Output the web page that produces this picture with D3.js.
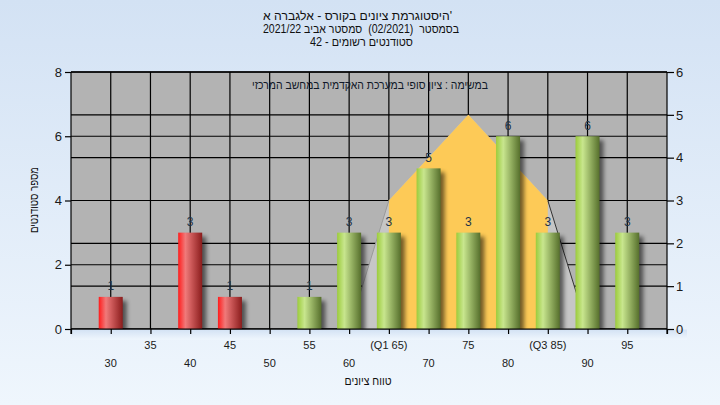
<!DOCTYPE html>
<html><head><meta charset="utf-8">
<script src="https://cdn.jsdelivr.net/npm/d3@7"></script>
<style>body{margin:0;padding:0;overflow:hidden}svg{display:block}</style>
</head><body>
<script>
const categories = [30,35,40,45,50,55,60,65,70,75,80,85,90,95];
const counts = [1,0,3,1,0,1,3,3,5,3,6,3,6,3];
const tickLabels = ["30","35","40","45","50","55","60","(Q1 65)","70","75","80","(Q3 85)","90","95"];
const passMark = 55;
const curveX = [60,65,75,85,90];
const curveY = [0,3,5,3,0];
const quartiles = [65,85];
const leftTicks = [0,2,4,6,8];
const rightTicks = [0,1,2,3,4,5,6];
const titleLines = ["היסטוגרמת ציונים בקורס - אלגברה א'", "בסמסטר  (02/2021)  סמסטר אביב 2021/22", "סטודנטים רשומים - 42"];
const subTitle = "במשימה : ציון סופי במערכת האקדמית במחשב המרכזי";
const yTitle = "מספר סטודנטים";
const xTitle = "טווח ציונים";

const W=720,H=405, L=71,R=667,T=72,B=329;
const font = "'Liberation Sans', Arial, sans-serif";
const svg = d3.select("body").append("svg").attr("width",W).attr("height",H);
const defs = svg.append("defs");
const bg = defs.append("linearGradient").attr("id","bg").attr("x1",0).attr("y1",0).attr("x2",0).attr("y2",1);
bg.append("stop").attr("offset",0).attr("stop-color","#d3e2f4");
bg.append("stop").attr("offset",1).attr("stop-color","#eff6fd");
function grad(id, stops){const g=defs.append("linearGradient").attr("id",id).attr("x1",0).attr("x2",1).attr("y1",0).attr("y2",0);
 stops.forEach(s=>g.append("stop").attr("offset",s[0]).attr("stop-color",s[1]));}
grad("red",[[0,"#ff1c1c"],[0.3,"#f07a7a"],[1,"#8a1c1c"]]);
grad("green",[[0,"#9ccc3c"],[0.3,"#c8e68e"],[1,"#566f2c"]]);
const f = defs.append("filter").attr("id","blur").attr("x","-50%").attr("y","-50%").attr("width","200%").attr("height","200%");
f.append("feGaussianBlur").attr("stdDeviation",2);

svg.append("rect").attr("width",W).attr("height",H).attr("fill","url(#bg)");

const x = d3.scaleLinear().domain([25,100]).range([L,R]);
const yL = d3.scaleLinear().domain([0,8]).range([B,T]);
const yR = d3.scaleLinear().domain([0,6]).range([B,T]);

svg.append("rect").attr("x",L).attr("y",T).attr("width",R-L).attr("height",B-T).attr("fill","#b3b3b3");

// grid
const g = svg.append("g").attr("stroke","#000").attr("stroke-width",1.2);
categories.forEach(c=>g.append("line").attr("x1",x(c)).attr("x2",x(c)).attr("y1",T).attr("y2",B));
leftTicks.forEach(t=>g.append("line").attr("x1",L).attr("x2",R).attr("y1",yL(t)).attr("y2",yL(t)));
rightTicks.forEach(t=>g.append("line").attr("x1",L).attr("x2",R).attr("y1",yR(t)).attr("y2",yR(t)));

// curve polygon
const pts = curveX.map((c,i)=>[x(c),yR(curveY[i])]);
const area = d3.area().x(d=>d[0]).y0(B).y1(d=>d[1]);
svg.append("path").attr("d",area(pts)).attr("fill","#c6c6c6").attr("stroke","none");
const inner = pts.filter((p,i)=>curveX[i]>=quartiles[0]&&curveX[i]<=quartiles[1]);
svg.append("path").attr("d",area(inner)).attr("fill","#fdca57");
svg.append("path").attr("d",d3.line()(pts.slice(3))).attr("fill","none").attr("stroke","#333").attr("stroke-width",1);
svg.append("path").attr("d",d3.line()(pts.slice(0,2))).attr("fill","none").attr("stroke","#9a9a9a").attr("stroke-width",1);

// bars
const bw = 24;
const data = categories.map((c,i)=>({c, v:counts[i]})).filter(d=>d.v>0);
svg.append("g").selectAll("rect").data(data).join("rect")
 .attr("x",d=>x(d.c)-bw/2+4).attr("y",d=>yL(d.v)+4).attr("width",bw).attr("height",d=>B-yL(d.v)-1)
 .attr("fill","#000").attr("opacity",0.55).attr("filter","url(#blur)");
svg.append("rect").attr("x",L).attr("y",B+0.6).attr("width",R-L+20).attr("height",10).attr("fill","url(#bg)");
svg.append("g").selectAll("rect").data(data).join("rect")
 .attr("x",d=>x(d.c)-bw/2).attr("y",d=>yL(d.v)).attr("width",bw).attr("height",d=>B-yL(d.v))
 .attr("fill",d=>d.c<passMark?"url(#red)":"url(#green)");
svg.append("g").selectAll("text").data(data).join("text")
 .attr("x",d=>x(d.c)).attr("y",d=>yL(d.v)-6.5).attr("text-anchor","middle")
 .attr("font-family",font).attr("font-size",12).attr("fill","#1e3448").text(d=>d.v);

// frame
svg.append("line").attr("x1",L).attr("x2",R).attr("y1",T).attr("y2",T).attr("stroke","#000").attr("stroke-width",1.2);

// axes
const axL = d3.axisLeft(yL).tickValues(leftTicks).tickSize(6).tickPadding(3).tickFormat(d3.format("d"));
const axR = d3.axisRight(yR).tickValues(rightTicks).tickSize(7).tickPadding(2).tickFormat(d3.format("d"));
const axB = d3.axisBottom(x).tickValues([25].concat(categories).concat([100])).tickSize(5).tickFormat("");
function style(sel){sel.selectAll("path,line").attr("stroke","#000").attr("stroke-width",1.2);
 sel.selectAll("text").attr("font-family",font).attr("font-size",13).attr("fill","#1a1a1a");
 sel.select(".domain").remove();}
svg.append("g").attr("transform",`translate(${L},0)`).call(axL).call(style);
svg.append("g").attr("transform",`translate(${R},0)`).call(axR).call(style);
svg.append("g").attr("transform",`translate(0,${B})`).call(axB).call(style);
svg.append("line").attr("x1",L).attr("x2",L).attr("y1",T).attr("y2",B+5).attr("stroke","#000").attr("stroke-width",1.2);
svg.append("line").attr("x1",R).attr("x2",R).attr("y1",T).attr("y2",B+5).attr("stroke","#000").attr("stroke-width",1.2);
svg.append("line").attr("x1",L).attr("x2",R).attr("y1",B).attr("y2",B).attr("stroke","#000").attr("stroke-width",1.2);

// x labels
svg.append("g").selectAll("text").data(categories).join("text")
 .attr("x",d=>x(d)).attr("y",(d,i)=>i%2?349:367).attr("text-anchor","middle")
 .attr("font-family",font).attr("font-size",11).attr("fill","#1a1a1a").text((d,i)=>tickLabels[i]);

// titles
const titleCfg = [{y:19.5,len:189,cx:357.5,dir:"ltr"},{y:33,len:196,cx:361,dir:"rtl"},{y:46,len:103,cx:361.5,dir:"rtl"}];
svg.append("g").selectAll("text").data(titleLines).join("text")
 .attr("x",(d,i)=>titleCfg[i].cx).attr("y",(d,i)=>titleCfg[i].y).attr("text-anchor","middle")
 .style("direction",(d,i)=>titleCfg[i].dir).style("white-space","pre")
 .attr("textLength",(d,i)=>titleCfg[i].len).attr("lengthAdjust","spacingAndGlyphs")
 .attr("font-family",font).attr("font-size",12).attr("fill","#101010").text(d=>d);
svg.append("text").attr("x",370).attr("y",89).attr("text-anchor","middle").style("direction","rtl")
 .attr("textLength",236).attr("lengthAdjust","spacingAndGlyphs")
 .attr("font-family",font).attr("font-size",12).attr("fill","#101828").text(subTitle);
svg.append("text").attr("transform","translate(38,200) rotate(-90)").attr("text-anchor","middle").style("direction","rtl")
 .attr("textLength",66).attr("lengthAdjust","spacingAndGlyphs")
 .attr("font-family",font).attr("font-size",12).attr("fill","#101010").text(yTitle);
svg.append("text").attr("x",368).attr("y",385).attr("text-anchor","middle").style("direction","rtl")
 .attr("textLength",47).attr("lengthAdjust","spacingAndGlyphs")
 .attr("font-family",font).attr("font-size",12).attr("fill","#101010").text(xTitle);
</script>
</body></html>
